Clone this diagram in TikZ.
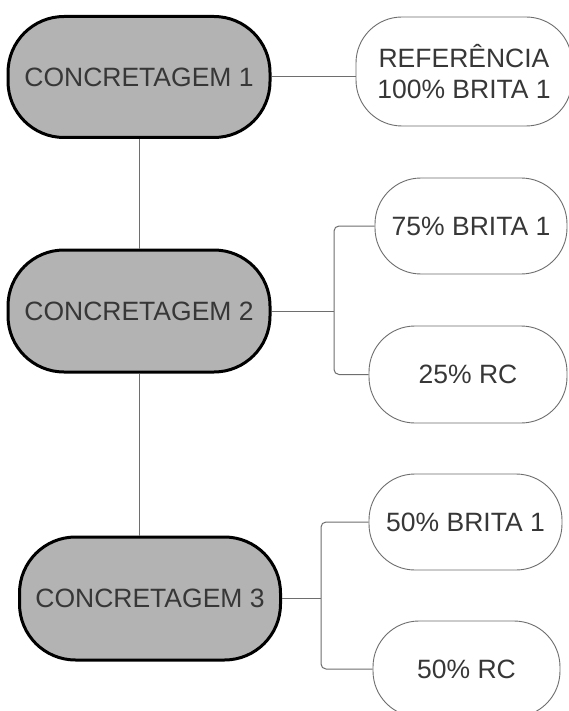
\documentclass[tikz,border=0pt]{standalone}
\usepackage{fontspec}
\setmainfont{Liberation Sans}
\definecolor{gfill}{RGB}{179,179,179}
\definecolor{tcol}{RGB}{55,55,55}
\definecolor{lcol}{RGB}{110,110,110}
\begin{document}
\begin{tikzpicture}[x=1pt,y=-1pt,
  txt/.style={text=tcol, font=\fontsize{26.5}{31}\selectfont, align=center, inner sep=0pt},
  mainbox/.style={txt, draw=black, line width=3pt, fill=gfill, rounded corners=56pt,
    minimum width=262pt, minimum height=121pt},
  leafbox/.style={txt, draw=lcol, line width=0.9pt, fill=white, rounded corners=46pt},
  conn/.style={draw=lcol, line width=1pt}]
\clip (0,0) rectangle (569,711);
\fill[white] (0,0) rectangle (569,711);

% main nodes
\node[mainbox] (c1) at (139,77) {CONCRETAGEM 1};
\node[mainbox, minimum height=122pt] (c2) at (139,311) {CONCRETAGEM 2};
\node[mainbox, minimum width=261pt, minimum height=123pt] (c3) at (150,598.5) {CONCRETAGEM 3};

% leaf nodes
\node[leafbox, minimum width=216pt, minimum height=109pt] (r1) at (464,71.5) {REFERÊNCIA\\100\% BRITA 1};
\node[leafbox, minimum width=192pt, minimum height=96pt] (r2a) at (471,226) {75\% BRITA 1};
\node[leafbox, minimum width=198pt, minimum height=97pt] (r2b) at (468,374.5) {25\% RC};
\node[leafbox, minimum width=193pt, minimum height=96pt] (r3a) at (465.5,522) {50\% BRITA 1};
\node[leafbox, minimum width=187pt, minimum height=96pt] (r3b) at (466.5,669) {50\% RC};

% bracket junctions
\coordinate (b2) at (334,311);
\coordinate (b3) at (321,598.5);

% connectors
\draw[conn] (c1.east) -- (c1.east -| r1.west);
\draw[conn] (c1.south) -- (c2.north);
\draw[conn] (c2.south) -- (c2.south |- c3.north);
\draw[conn] (c2.east) -- (b2);
\draw[conn, rounded corners=5pt] (r2a.west) -| (b2) |- (r2b.west);
\draw[conn] (c3.east) -- (b3);
\draw[conn, rounded corners=5pt] (r3a.west) -| (b3) |- (r3b.west);
\end{tikzpicture}
\end{document}
